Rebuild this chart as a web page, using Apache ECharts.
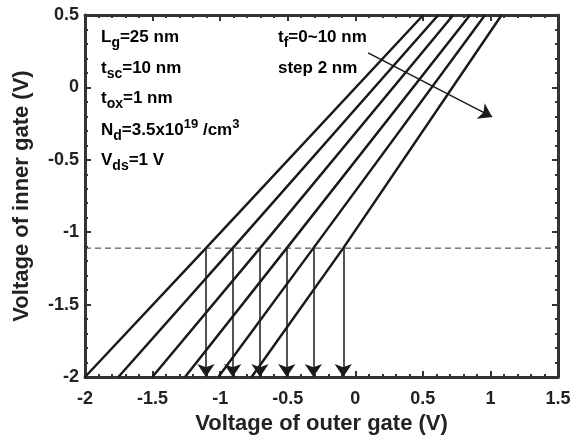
<!DOCTYPE html>
<html>
<head>
<meta charset="utf-8">
<script src="https://cdn.jsdelivr.net/npm/echarts@6/dist/echarts.min.js"></script>
<style>
  html, body { margin: 0; padding: 0; background: #fff; }
  #chart { width: 581px; height: 444px; }
</style>
</head>
<body>
<div id="chart"></div>
<script>
// Inner-gate vs outer-gate voltage, t_f = 0..10 nm (step 2 nm).
// Each curve read at three heights: bottom edge, the dashed level, top edge.
const curveY = [-2, -1.11, 0.5];
const curveX = [
  [-2.0, -1.105, 0.503],   // t_f = 0
  [-1.753, -0.907, 0.614], // 2
  [-1.502, -0.705, 0.725], // 4
  [-1.26, -0.507, 0.849],  // 6
  [-1.013, -0.31, 0.96],   // 8
  [-0.767, -0.089, 1.083], // 10
];
const dashedLevel = -1.11;
const arrowX = [-1.105, -0.907, -0.705, -0.507, -0.31, -0.089];
const trendArrow = [[0.095, 0.238], [1.013, -0.204]];

const xTicks = { min: -2, max: 1.5, interval: 0.5 };
const yTicks = { min: -2, max: 0.5, interval: 0.5 };

const FONT = "'Liberation Sans', Arial, sans-serif";
const INK = "#1a1a1a";
const AXIS = "#333";

function axisBase(extra) {
  return Object.assign({
    type: "value",
    axisLine: { show: true, onZero: false, lineStyle: { color: AXIS, width: 3 } },
    axisTick: { show: true, inside: true, length: 6, lineStyle: { color: AXIS, width: 2 } },
    minorTick: { show: true, splitNumber: 5, length: 3, lineStyle: { color: AXIS, width: 2 } },
    splitLine: { show: false },
    axisLabel: { show: false },
  }, extra);
}

const tickLabel = { show: true, color: "#222", fontFamily: FONT, fontWeight: "bold", fontSize: 18 };
const nameStyle = { color: "#222", fontFamily: FONT, fontWeight: "bold", fontSize: 22 };

const series = curveX.map((xs) => ({
  type: "line",
  xAxisIndex: 0,
  yAxisIndex: 0,
  symbol: "none",
  data: xs.map((x, i) => [x, curveY[i]]),
  lineStyle: { color: INK, width: 2.5 },
}));

series.push({
  type: "line",
  symbol: "none",
  data: [[xTicks.min, dashedLevel], [xTicks.max, dashedLevel]],
  lineStyle: { color: "#333", width: 1, type: [6, 4] },
  markLine: {
    silent: true,
    symbol: ["none", "arrow"],
    symbolSize: 13,
    label: { show: false },
    lineStyle: { color: INK, width: 1.5, type: "solid" },
    data: arrowX.map((x) => [{ coord: [x, dashedLevel] }, { coord: [x, yTicks.min] }])
      .concat([[{ coord: trendArrow[0] }, { coord: trendArrow[1] }]]),
  },
});

// rich-text helpers for the sub/superscripted labels
const base = { fontFamily: FONT, fontWeight: "bold", fontSize: 17, color: INK };
const rich = {
  b: base,
  s: Object.assign({}, base, { fontSize: 14, padding: [12, 0, 0, 0] }),
  p: Object.assign({}, base, { fontSize: 13, padding: [0, 0, 12, 0] }),
};
const notes = [
  { x: 101, y: 37, text: "{b|L}{s|g}{b|=25 nm}" },
  { x: 101, y: 68, text: "{b|t}{s|sc}{b|=10 nm}" },
  { x: 101, y: 98, text: "{b|t}{s|ox}{b|=1 nm}" },
  { x: 101, y: 130, text: "{b|N}{s|d}{b|=3.5x10}{p|19}{b| /cm}{p|3}" },
  { x: 101, y: 160, text: "{b|V}{s|ds}{b|=1 V}" },
  { x: 278, y: 37, text: "{b|t}{s|f}{b|=0~10 nm}" },
  { x: 278, y: 68, text: "{b|step 2 nm}" },
];

const option = {
  animation: false,
  backgroundColor: "#fff",
  grid: { left: 85, right: 23, top: 15, bottom: 67 },
  xAxis: [
    axisBase(Object.assign({}, xTicks, {
      position: "bottom",
      axisLabel: Object.assign({}, tickLabel, { margin: 13 }),
      name: "Voltage of outer gate (V)",
      nameLocation: "middle",
      nameGap: 36,
      nameTextStyle: nameStyle,
    })),
    axisBase(Object.assign({}, xTicks, { position: "top" })),
  ],
  yAxis: [
    axisBase(Object.assign({}, yTicks, {
      position: "left",
      axisLabel: Object.assign({}, tickLabel, { margin: 6 }),
      name: "Voltage of inner gate (V)",
      nameLocation: "middle",
      nameGap: 52,
      nameTextStyle: nameStyle,
    })),
    axisBase(Object.assign({}, yTicks, { position: "right" })),
  ],
  graphic: notes.map((n) => ({
    type: "text",
    x: n.x,
    y: n.y,
    style: { text: n.text, rich: rich, verticalAlign: "middle", align: "left" },
  })),
  series: series,
};

echarts.init(document.getElementById("chart")).setOption(option);
</script>
</body>
</html>
